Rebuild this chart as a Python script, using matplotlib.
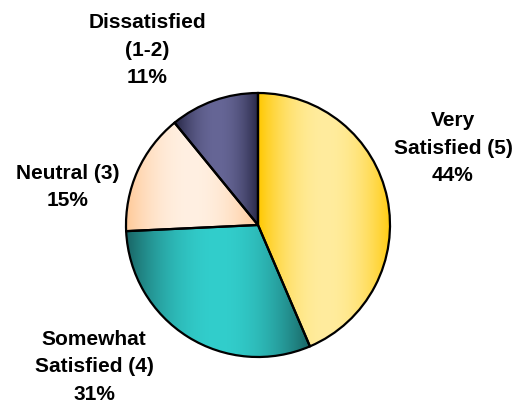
import numpy as np
import matplotlib
matplotlib.use("Agg")
import matplotlib.pyplot as plt

labels = ["Very\nSatisfied (5)", "Somewhat\nSatisfied (4)", "Neutral (3)", "Dissatisfied\n(1-2)"]
values = [44, 31, 15, 11]
edge_colors = [(255, 200, 0), (25, 100, 100), (255, 200, 150), (38, 38, 68)]
mid_colors = [(255, 236, 158), (50, 206, 204), (255, 240, 226), (102, 102, 150)]
label_pos = [(453, 148), (94, 367), (68, 187), (147, 50)]

W, H = 516, 404
fig = plt.figure(figsize=(W / 100, H / 100), dpi=100)
ax = fig.add_axes([0, 0, 1, 1])
cx, cy, r = 258, 225, 132

# y axis is inverted (pixel-like coords), so start at -90 and go counterclockwise in data
wedges, _ = ax.pie(values, startangle=-90, counterclock=True, center=(cx, cy),
                   radius=r, frame=True,
                   wedgeprops=dict(edgecolor="black", linewidth=1.6, facecolor="none"))
ax.set_xlim(0, W)
ax.set_ylim(H, 0)
ax.set_aspect("equal")
ax.axis("off")

for w, ec, mc in zip(wedges, edge_colors, mid_colors):
    verts = w.get_path().vertices
    x0, x1 = verts[:, 0].min(), verts[:, 0].max()
    y0, y1 = verts[:, 1].min(), verts[:, 1].max()
    t = np.linspace(0, 1, 256)
    m = 1 - np.abs(2 * t - 1) ** 2
    ec_a = np.array(ec) / 255.0
    mc_a = np.array(mc) / 255.0
    row = ec_a[None, :] + (mc_a - ec_a)[None, :] * m[:, None]
    img = np.repeat(row[None, :, :], 2, axis=0)
    im = ax.imshow(img, extent=(x0, x1, y1, y0), aspect="auto", zorder=0.5,
                   interpolation="bilinear")
    im.set_clip_path(w)
    w.set_zorder(1)

ax.set_xlim(0, W)
ax.set_ylim(H, 0)

for (x, y), lab, v in zip(label_pos, labels, values):
    ax.text(x, y, f"{lab}\n{v}%", ha="center", va="center", fontsize=15,
            fontweight="bold", family="Liberation Sans", linespacing=1.55)

fig.savefig("out.png", dpi=100)
